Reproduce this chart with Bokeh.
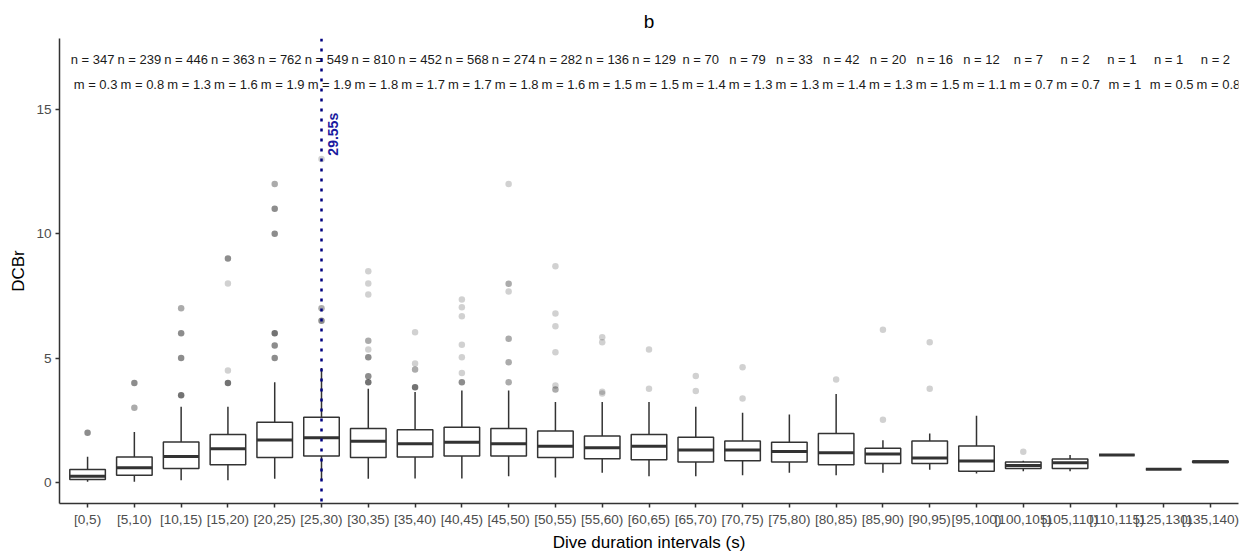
import math
from bokeh.plotting import figure
from bokeh.models import ColumnDataSource, Range1d, FixedTicker, Span, Label
from bokeh.core.properties import value
from bokeh.embed import file_html
from bokeh.resources import INLINE

# ---------------- data ----------------
categories = ["[0,5)", "[5,10)", "[10,15)", "[15,20)", "[20,25)", "[25,30)", "[30,35)",
              "[35,40)", "[40,45)", "[45,50)", "[50,55)", "[55,60)", "[60,65)", "[65,70)",
              "[70,75)", "[75,80)", "[80,85)", "[85,90)", "[90,95)", "[95,100)",
              "[100,105)", "[105,110)", "[110,115)", "[125,130)", "[135,140)"]
n_counts = [347, 239, 446, 363, 762, 549, 810, 452, 568, 274, 282, 136, 129, 70, 79,
            33, 42, 20, 16, 12, 7, 2, 1, 1, 2]
m_values = [0.3, 0.8, 1.3, 1.6, 1.9, 1.9, 1.8, 1.7, 1.7, 1.8, 1.6, 1.5, 1.5, 1.4, 1.3,
            1.3, 1.4, 1.3, 1.5, 1.1, 0.7, 0.7, 1, 0.5, 0.8]

whisker_low = [0.02, 0.02, 0.09, 0.09, 0.15, 0.10, 0.15, 0.16, 0.16, 0.25, 0.20, 0.39, 0.25,
               0.25, 0.29, 0.39, 0.29, 0.39, 0.51, 0.36, 0.45, 0.45, 1.10, 0.53, 0.80]
q1 = [0.12, 0.29, 0.56, 0.71, 1.00, 1.06, 1.00, 1.02, 1.06, 1.06, 1.00, 0.95, 0.91,
      0.82, 0.87, 0.82, 0.71, 0.76, 0.76, 0.45, 0.56, 0.56, 1.10, 0.53, 0.80]
median = [0.25, 0.59, 1.04, 1.35, 1.70, 1.79, 1.65, 1.55, 1.61, 1.55, 1.45, 1.39, 1.45,
          1.30, 1.30, 1.24, 1.19, 1.14, 0.98, 0.86, 0.68, 0.79, 1.10, 0.53, 0.83]
q3 = [0.52, 1.02, 1.62, 1.92, 2.42, 2.62, 2.17, 2.12, 2.22, 2.17, 2.07, 1.86, 1.92,
      1.81, 1.66, 1.61, 1.97, 1.37, 1.66, 1.46, 0.82, 0.94, 1.10, 0.53, 0.86]
whisker_high = [1.03, 2.03, 3.04, 3.04, 4.03, 4.60, 3.76, 3.63, 3.69, 3.69, 3.23, 3.23, 3.23,
                3.04, 2.80, 2.73, 3.55, 1.69, 1.97, 2.68, 0.87, 1.10, 1.10, 0.53, 0.86]

# outliers: category, value, number of overlapping observations
outlier_cat = ["[0,5)",
               "[5,10)", "[5,10)",
               "[10,15)", "[10,15)", "[10,15)", "[10,15)",
               "[15,20)", "[15,20)", "[15,20)", "[15,20)",
               "[20,25)", "[20,25)", "[20,25)", "[20,25)", "[20,25)", "[20,25)",
               "[25,30)", "[25,30)", "[25,30)",
               "[30,35)", "[30,35)", "[30,35)", "[30,35)", "[30,35)", "[30,35)", "[30,35)", "[30,35)",
               "[35,40)", "[35,40)", "[35,40)", "[35,40)",
               "[40,45)", "[40,45)", "[40,45)", "[40,45)", "[40,45)", "[40,45)", "[40,45)",
               "[45,50)", "[45,50)", "[45,50)", "[45,50)", "[45,50)", "[45,50)",
               "[50,55)", "[50,55)", "[50,55)", "[50,55)", "[50,55)", "[50,55)",
               "[55,60)", "[55,60)", "[55,60)", "[55,60)",
               "[60,65)", "[60,65)",
               "[65,70)", "[65,70)",
               "[70,75)", "[70,75)",
               "[80,85)",
               "[85,90)", "[85,90)",
               "[90,95)", "[90,95)",
               "[100,105)"]
outlier_val = [2.0,
               4.0, 3.0,
               3.5, 5.0, 6.0, 7.0,
               4.0, 4.5, 8.0, 9.0,
               5.0, 5.5, 6.0, 10.0, 11.0, 12.0,
               6.5, 7.0, 13.0,
               4.03, 4.27, 5.03, 5.34, 5.69, 7.55, 8.0, 8.49,
               3.83, 4.54, 4.78, 6.04,
               4.03, 4.40, 5.03, 5.53, 6.68, 7.04, 7.35,
               4.03, 4.83, 5.78, 7.68, 7.99, 12.0,
               3.73, 3.90, 5.23, 6.28, 6.79, 8.69,
               3.57, 3.64, 5.63, 5.84,
               3.76, 5.34,
               3.67, 4.28,
               3.37, 4.63,
               4.14,
               2.52, 6.14,
               3.76, 5.63,
               1.23]
outlier_count = [3,
                 3, 2,
                 4, 3, 3, 2,
                 4, 1, 1, 3,
                 3, 3, 4, 3, 3, 2,
                 3, 2, 1,
                 4, 3, 3, 1, 2, 1, 1, 1,
                 4, 2, 1, 1,
                 3, 1, 1, 1, 1, 1, 1,
                 2, 2, 2, 1, 2, 1,
                 2, 1, 1, 1, 1, 1,
                 1, 1, 1, 1,
                 1, 1,
                 1, 1,
                 1, 1,
                 1,
                 1, 1,
                 1, 1,
                 1]

threshold_s = 29.55
threshold_label = "29.55s"
n_row_y = 17
m_row_y = 16
threshold_label_y = 14

# ---------------- styling ----------------
FONT = "Liberation Sans"
BOX_W = 0.76
POINT_ALPHA = 0.18
DARK = "#333333"

pos = {c: i for i, c in enumerate(categories)}
xs = list(range(len(categories)))

p = figure(width=1250, height=554, output_backend="svg", toolbar_location=None,
           x_range=Range1d(-0.6, len(categories) - 0.4),
           y_range=Range1d(-0.85, 17.85),
           min_border_left=59, min_border_right=12, min_border_top=38, min_border_bottom=50)
p.background_fill_color = "white"
p.border_fill_color = "white"
p.outline_line_color = None
p.grid.visible = False

# title
p.title.text = "b"
p.title.align = "center"
p.title.text_font = FONT
p.title.text_font_size = "19px"
p.title.text_font_style = "normal"
p.title.text_color = "black"
p.title.standoff = 13

# axes
for ax in (p.xaxis[0], p.yaxis[0]):
    ax.axis_line_color = DARK
    ax.axis_line_width = 1.5
    ax.major_tick_line_color = DARK
    ax.major_tick_line_width = 1.5
    ax.major_tick_out = 4
    ax.major_tick_in = 0
    ax.minor_tick_line_color = None
    ax.major_label_text_font = FONT
    ax.major_label_text_font_size = "13.6px"
    ax.major_label_text_color = "#4d4d4d"
    ax.axis_label_text_font = FONT
    ax.axis_label_text_font_size = "17px"
    ax.axis_label_text_font_style = "normal"
    ax.axis_label_text_color = "black"

p.xaxis[0].ticker = FixedTicker(ticks=xs)
p.xaxis[0].major_label_overrides = {i: c for i, c in enumerate(categories)}
p.xaxis[0].axis_label = "Dive duration intervals (s)"
p.xaxis[0].major_label_standoff = 4
p.xaxis[0].axis_label_standoff = 3

p.yaxis[0].ticker = FixedTicker(ticks=[0, 5, 10, 15])
p.yaxis[0].axis_label = "DCBr"
p.yaxis[0].major_label_standoff = 4
p.yaxis[0].axis_label_standoff = 5

# boxes
box_src = ColumnDataSource(dict(
    x=xs, q1=q1, q3=q3, med=median, lo=whisker_low, hi=whisker_high,
    x0=[x - BOX_W / 2 for x in xs], x1=[x + BOX_W / 2 for x in xs]))

p.segment(x0="x", y0="q3", x1="x", y1="hi", source=box_src, line_color=DARK, line_width=1.5)
p.segment(x0="x", y0="q1", x1="x", y1="lo", source=box_src, line_color=DARK, line_width=1.5)
p.vbar(x="x", width=BOX_W, bottom="q1", top="q3", source=box_src,
       fill_color="white", line_color=DARK, line_width=1.5)
p.segment(x0="x0", y0="med", x1="x1", y1="med", source=box_src,
          line_color=DARK, line_width=3)

# outliers
out_src = ColumnDataSource(dict(
    x=[pos[c] for c in outlier_cat], y=outlier_val,
    a=[1 - (1 - POINT_ALPHA) ** k for k in outlier_count]))
p.scatter(x="x", y="y", source=out_src, marker="circle", size=6.5,
          fill_color="black", fill_alpha="a", line_color=None)

# annotations n and m
ann_src = ColumnDataSource(dict(
    x=xs,
    yn=[n_row_y] * len(xs), ym=[m_row_y] * len(xs),
    tn=[f"n = {n}" for n in n_counts],
    tm=[f"m = {m:g}" for m in m_values]))
p.text(x="x", y="yn", text="tn", source=ann_src, text_align="center",
       text_baseline="middle", text_font=value(FONT), text_font_size="13px",
       text_color="#1a1a1a", x_offset=5)
p.text(x="x", y="ym", text="tm", source=ann_src, text_align="center",
       text_baseline="middle", text_font=value(FONT), text_font_size="13px",
       text_color="#1a1a1a", x_offset=8)

# threshold line, drawn at the dive-duration bin that contains 29.55 s
vline_x = int(threshold_s // 5)
p.add_layout(Span(location=vline_x, dimension="height", line_color="#000080",
                  line_dash="3 7", line_width=2.5))
p.add_layout(Label(x=vline_x, y=threshold_label_y, text=threshold_label,
                   angle=math.pi / 2, x_offset=11, text_align="center",
                   text_baseline="middle", text_font=FONT, text_font_size="14px",
                   text_font_style="bold", text_color="#1a1aa0"))

open("out.html", "w").write(file_html(p, INLINE))
